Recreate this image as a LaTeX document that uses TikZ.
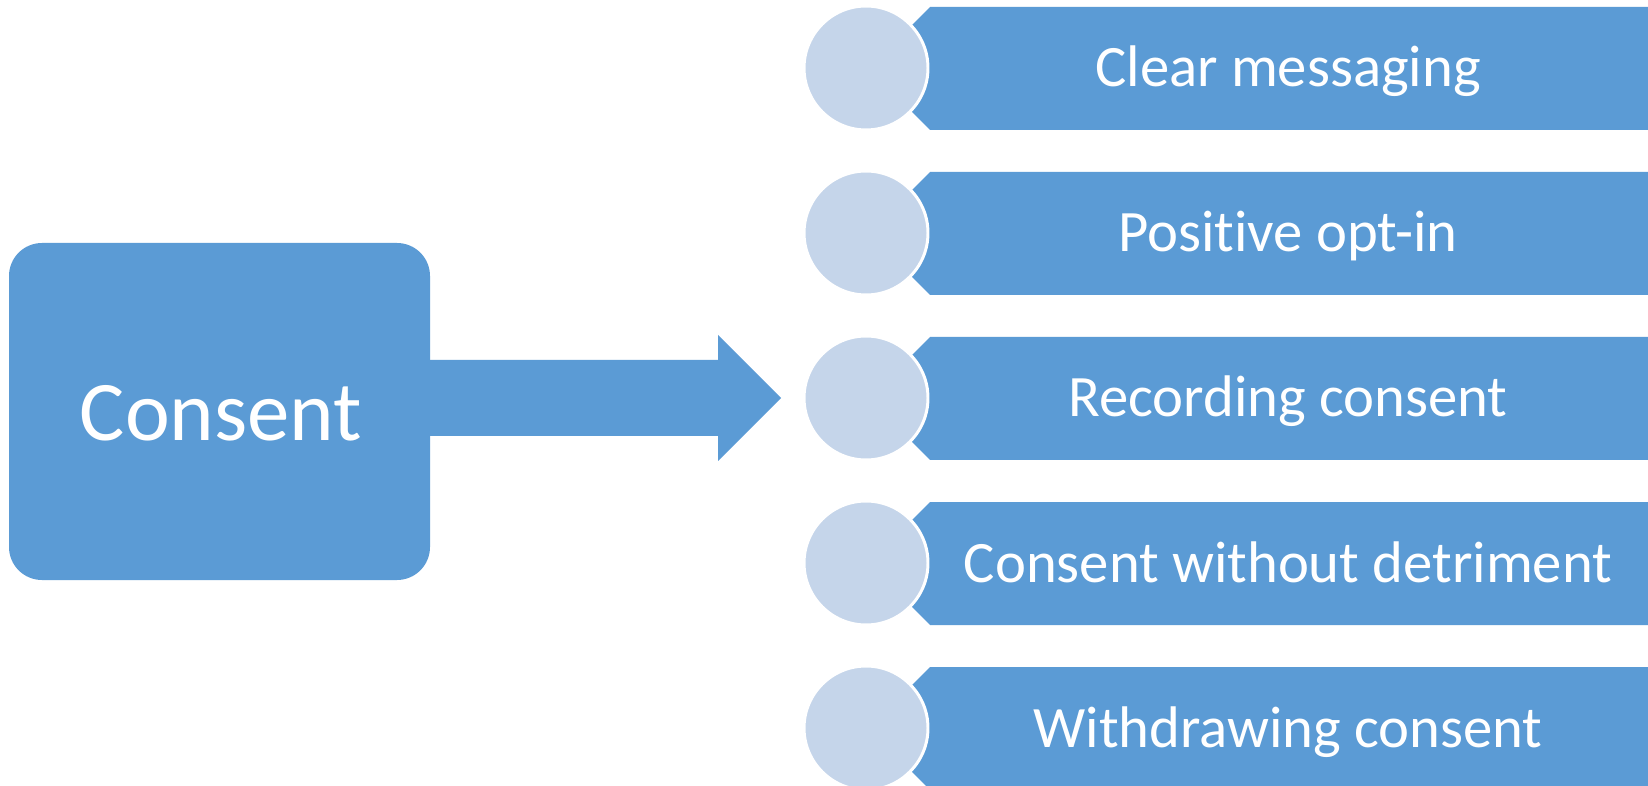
\documentclass[tikz,border=0pt]{standalone}
\usepackage{fontspec}
\setmainfont{Carlito}[Ligatures={NoCommon,NoDiscretionary,NoRare}]
\definecolor{banner}{RGB}{91,155,213}
\definecolor{disc}{RGB}{197,213,234}
\tikzset{
  bannerfill/.style={fill=banner},
  disccircle/.style={circle, fill=disc, draw=white, line width=1.7pt, inner sep=0pt, minimum size=2.48cm},
  itemtext/.style={anchor=base, text=white, inner sep=0pt, font=\fontsize{33.4}{40}\selectfont},
  maintext/.style={anchor=base, text=white, inner sep=0pt, font=\fontsize{48.3}{58}\selectfont}
}
\begin{document}
\begin{tikzpicture}[x=0.02cm,y=-0.02cm]
\useasboundingbox (0,0) rectangle (1648,786);
\clip (0,0) rectangle (1648,786);
\fill[white] (0,0) rectangle (1648,786);
% main box
\fill[bannerfill, rounded corners=0.66cm] (9,243) rectangle (430,580);
\node[maintext] (consent) at (221,441) {Consent};
% big arrow
\coordinate (arrowtip) at (781,398);
\fill[bannerfill] (425,360) -- (718,360) -- (718,335) -- (arrowtip) -- (718,461) -- (718,436) -- (425,436) -- cycle;
% items
\foreach \t [count=\i from 0] in {Clear messaging, Positive opt-in, Recording consent, Consent without detriment, Withdrawing consent} {
  \pgfmathsetmacro\ytop{7+165*\i}
  \fill[bannerfill] (930,\ytop) -- (1660,\ytop) -- (1660,\ytop+123) -- (930,\ytop+123) -- (905,\ytop+98) -- (905,\ytop+25) -- cycle;
  \node[disccircle] (c\i) at (866,\ytop+61) {};
  \node[itemtext] (t\i) at (1288,\ytop+80) {\t};
}
\end{tikzpicture}
\end{document}
